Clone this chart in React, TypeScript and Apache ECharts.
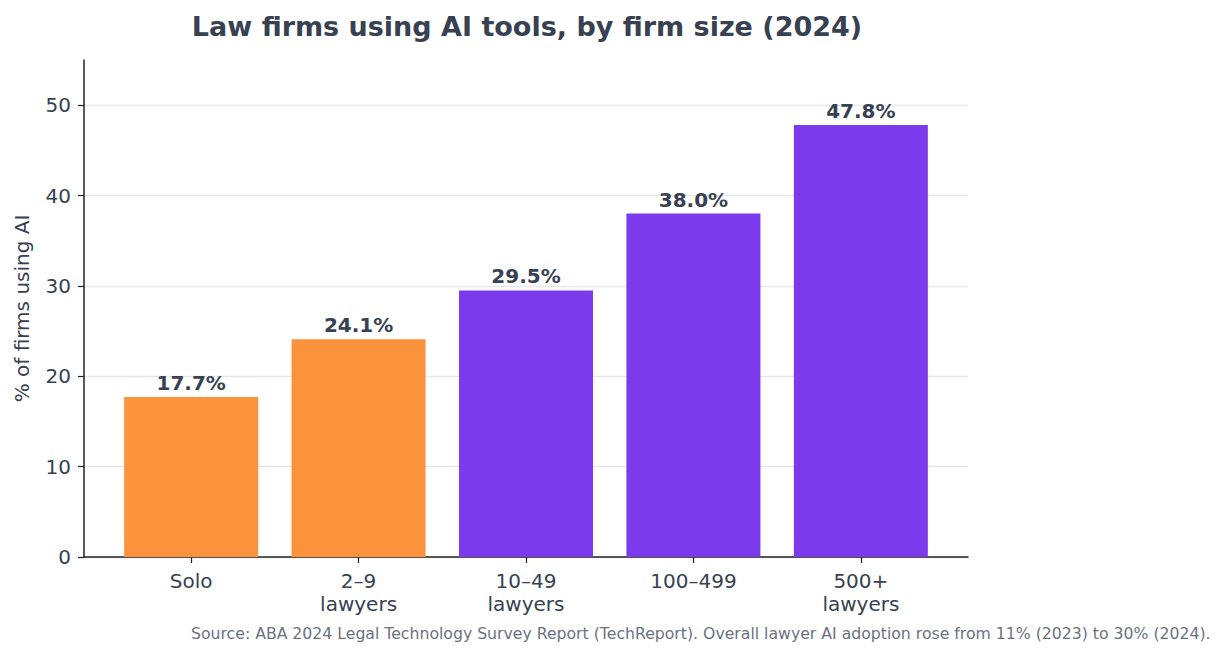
import React, { useEffect, useRef } from "react";
import * as echarts from "echarts";

// Share of law firms using AI tools, by firm size (2024)
const categories = ["Solo", "2–9\nlawyers", "10–49\nlawyers", "100–499", "500+\nlawyers"];
const adoption = [17.7, 24.1, 29.5, 38.0, 47.8];
const barColors = ["#FB923C", "#FB923C", "#7C3AED", "#7C3AED", "#7C3AED"];
const yTicks = [0, 10, 20, 30, 40, 50];

const FONT = "DejaVu Sans, Verdana, sans-serif";
const TEXT = "#374151";

export default function App() {
  const ref = useRef<HTMLDivElement>(null);

  useEffect(() => {
    if (!ref.current) return;
    const chart = echarts.init(ref.current, undefined, { renderer: "svg" });
    const positions = categories.map((_, i) => i);
    chart.setOption({
      animation: false,
      backgroundColor: "#ffffff",
      textStyle: { fontFamily: FONT },
      title: {
        text: "Law firms using AI tools, by firm size (2024)",
        left: 522,
        top: 8,
        textAlign: "center",
        textStyle: { fontFamily: FONT, fontSize: 27, fontWeight: "bold", color: TEXT },
      },
      grid: { left: 84, right: 257, top: 60, bottom: 99, containLabel: false },
      xAxis: {
        type: "value",
        min: -0.64,
        max: 4.64,
        axisLine: { show: true, lineStyle: { color: "#222222", width: 1.5 } },
        axisTick: { show: true, customValues: positions, length: 6, lineStyle: { color: "#222222", width: 1.2 } },
        axisLabel: {
          customValues: positions,
          formatter: (v: number) => categories[Math.round(v)] ?? "",
          color: TEXT,
          fontSize: 20,
          lineHeight: 23,
          margin: 12,
          fontFamily: FONT,
        },
        splitLine: { show: false },
      },
      yAxis: {
        type: "value",
        min: 0,
        max: 55,
        name: "% of firms using AI",
        nameLocation: "middle",
        nameGap: 52,
        nameTextStyle: { color: TEXT, fontSize: 20, fontFamily: FONT },
        axisLine: { show: true, onZero: false, lineStyle: { color: "#222222", width: 1.5 } },
        axisTick: { show: true, customValues: yTicks, length: 6, lineStyle: { color: "#222222", width: 1.2 } },
        axisLabel: {
          customValues: yTicks,
          color: TEXT,
          fontSize: 20,
          margin: 13,
          fontFamily: FONT,
        },
        splitLine: { show: true, lineStyle: { color: "#e5e7eb", width: 1.3 } },
      },
      series: [
        {
          type: "bar",
          barWidth: 134,
          data: adoption.map((v, i) => ({
            value: [i, v],
            itemStyle: { color: barColors[i] },
          })),
          label: {
            show: true,
            position: "top",
            distance: 4,
            formatter: (p: any) => `${(p.value[1] as number).toFixed(1)}%`,
            color: TEXT,
            fontSize: 20,
            fontWeight: "bold",
            fontFamily: FONT,
          },
        },
      ],
      graphic: [
        {
          type: "text",
          left: 191,
          top: 625,
          style: {
            text: "Source: ABA 2024 Legal Technology Survey Report (TechReport). Overall lawyer AI adoption rose from 11% (2023) to 30% (2024).",
            fill: "#6B7280",
            fontSize: 15.7,
            fontFamily: FONT,
          },
        },
      ],
    });
    return () => chart.dispose();
  }, []);

  return (
    <div
      ref={ref}
      style={{ position: "fixed", left: 0, top: 0, width: 1225, height: 656 }}
    />
  );
}
